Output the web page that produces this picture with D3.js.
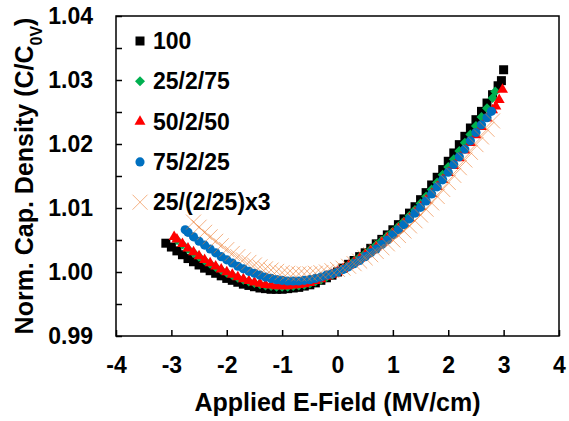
<!DOCTYPE html>
<html><head><meta charset="utf-8">
<script src="https://cdn.jsdelivr.net/npm/d3@7"></script>
<style>
body{margin:0;background:#fff}
text{font-family:"Liberation Sans",Arial,sans-serif;font-weight:bold;fill:#000}
</style>
</head><body>
<svg id="c" width="569" height="421"></svg>
<script>
const xTicks=[-4,-3,-2,-1,0,1,2,3,4];
const yLabelTicks=[0.99,1.00,1.01,1.02,1.03,1.04];
const yMinorTicks=[0.995,1.005,1.015,1.025,1.035];
const seriesNames=["100","25/2/75","50/2/50","75/2/25","25/(2/25)x3"];

const s100=[[-3.1,1.0045],[-3.0,1.0039],[-2.9,1.0033],[-2.8,1.0027],[-2.7,1.0021],[-2.6,1.0016],[-2.5,1.0011],[-2.4,1.0006],[-2.3,1.0002],[-2.2,0.9998],[-2.1,0.9994],[-2.0,0.9990],[-1.9,0.9987],[-1.8,0.9984],[-1.7,0.9981],[-1.6,0.9979],[-1.5,0.9977],[-1.4,0.9975],[-1.3,0.9974],[-1.2,0.9973],[-1.1,0.9973],[-1.0,0.9973],[-0.9,0.9974],[-0.8,0.9975],[-0.7,0.9976],[-0.6,0.9978],[-0.5,0.9980],[-0.4,0.9983],[-0.3,0.9987],[-0.2,0.9991],[-0.1,0.9995],[0.0,1.0000],[0.1,1.0006],[0.2,1.0012],[0.3,1.0018],[0.4,1.0024],[0.5,1.0030],[0.6,1.0037],[0.7,1.0044],[0.8,1.0051],[0.9,1.0058],[1.0,1.0066],[1.1,1.0074],[1.2,1.0083],[1.3,1.0092],[1.4,1.0102],[1.5,1.0113],[1.6,1.0124],[1.7,1.0136],[1.8,1.0148],[1.9,1.0160],[2.0,1.0173],[2.1,1.0186],[2.2,1.0199],[2.3,1.0212],[2.4,1.0225],[2.5,1.0238],[2.6,1.0251],[2.7,1.0264],[2.8,1.0277],[2.9,1.0291],[2.96,1.0299],[3.0,1.0316]];

const s25_2_75=[[-2.9,1.0050],[-2.8,1.0043],[-2.7,1.0036],[-2.6,1.0030],[-2.5,1.0024],[-2.4,1.0018],[-2.3,1.0013],[-2.2,1.0008],[-2.1,1.0003],[-2.0,0.9999],[-1.9,0.9995],[-1.8,0.9991],[-1.7,0.9988],[-1.6,0.9985],[-1.5,0.9983],[-1.4,0.9981],[-1.3,0.9979],[-1.2,0.9978],[-1.1,0.9977],[-1.0,0.9977],[-0.9,0.9977],[-0.8,0.9978],[-0.7,0.9979],[-0.6,0.9980],[-0.5,0.9982],[-0.4,0.9985],[-0.3,0.9988],[-0.2,0.9992],[-0.1,0.9996],[0.0,1.0000],[0.1,1.0005],[0.2,1.0011],[0.3,1.0017],[0.4,1.0023],[0.5,1.0029],[0.6,1.0035],[0.7,1.0042],[0.8,1.0049],[0.9,1.0056],[1.0,1.0063],[1.1,1.0071],[1.2,1.0079],[1.3,1.0088],[1.4,1.0097],[1.5,1.0107],[1.6,1.0118],[1.7,1.0129],[1.8,1.0140],[1.9,1.0152],[2.0,1.0164],[2.1,1.0176],[2.2,1.0189],[2.3,1.0202],[2.4,1.0215],[2.5,1.0228],[2.6,1.0242],[2.7,1.0256],[2.8,1.0272],[2.85,1.0282]];

const s50_2_50=[[-2.95,1.0055],[-2.9,1.0051],[-2.8,1.0044],[-2.7,1.0037],[-2.6,1.0031],[-2.5,1.0025],[-2.4,1.0019],[-2.3,1.0014],[-2.2,1.0009],[-2.1,1.0004],[-2.0,1.0000],[-1.9,0.9996],[-1.8,0.9992],[-1.7,0.9989],[-1.6,0.9986],[-1.5,0.9984],[-1.4,0.9982],[-1.3,0.9980],[-1.2,0.9979],[-1.1,0.9978],[-1.0,0.9978],[-0.9,0.9978],[-0.8,0.9979],[-0.7,0.9980],[-0.6,0.9981],[-0.5,0.9983],[-0.4,0.9986],[-0.3,0.9989],[-0.2,0.9993],[-0.1,0.9996],[0.0,1.0000],[0.1,1.0005],[0.2,1.0010],[0.3,1.0015],[0.4,1.0021],[0.5,1.0027],[0.6,1.0033],[0.7,1.0039],[0.8,1.0046],[0.9,1.0053],[1.0,1.0060],[1.1,1.0068],[1.2,1.0076],[1.3,1.0084],[1.4,1.0093],[1.5,1.0102],[1.6,1.0112],[1.7,1.0122],[1.8,1.0133],[1.9,1.0144],[2.0,1.0155],[2.1,1.0166],[2.2,1.0178],[2.3,1.0190],[2.4,1.0202],[2.5,1.0214],[2.6,1.0227],[2.7,1.0240],[2.8,1.0253],[2.86,1.0259],[2.92,1.0269],[2.98,1.0285]];

const s75_2_25=[[-2.75,1.0066],[-2.7,1.0062],[-2.6,1.0055],[-2.5,1.0048],[-2.4,1.0042],[-2.3,1.0036],[-2.2,1.0030],[-2.1,1.0024],[-2.0,1.0019],[-1.9,1.0014],[-1.8,1.0009],[-1.7,1.0005],[-1.6,1.0001],[-1.5,0.9998],[-1.4,0.9995],[-1.3,0.9992],[-1.2,0.9990],[-1.1,0.9988],[-1.0,0.9987],[-0.9,0.9986],[-0.8,0.9986],[-0.7,0.9986],[-0.6,0.9987],[-0.5,0.9988],[-0.4,0.9990],[-0.3,0.9992],[-0.2,0.9995],[-0.1,0.9997],[0.0,1.0000],[0.1,1.0004],[0.2,1.0008],[0.3,1.0013],[0.4,1.0018],[0.5,1.0024],[0.6,1.0030],[0.7,1.0036],[0.8,1.0043],[0.9,1.0050],[1.0,1.0058],[1.1,1.0066],[1.2,1.0074],[1.3,1.0083],[1.4,1.0092],[1.5,1.0101],[1.6,1.0111],[1.7,1.0122],[1.8,1.0133],[1.9,1.0144],[2.0,1.0156],[2.1,1.0168],[2.2,1.0180],[2.3,1.0192],[2.4,1.0205],[2.5,1.0218],[2.6,1.0230],[2.7,1.0241],[2.78,1.0251]];

const s25_x3=[[-2.6,1.0078],[-2.5,1.0070],[-2.4,1.0062],[-2.3,1.0055],[-2.2,1.0048],[-2.1,1.0041],[-2.0,1.0035],[-1.9,1.0029],[-1.8,1.0024],[-1.7,1.0019],[-1.6,1.0015],[-1.5,1.0011],[-1.4,1.0008],[-1.3,1.0005],[-1.2,1.0003],[-1.1,1.0001],[-1.0,0.9999],[-0.9,0.9998],[-0.8,0.9997],[-0.7,0.9997],[-0.6,0.9997],[-0.5,0.9997],[-0.4,0.9998],[-0.3,0.9999],[-0.2,1.0000],[-0.1,1.0002],[0.0,1.0004],[0.1,1.0006],[0.2,1.0009],[0.3,1.0013],[0.4,1.0017],[0.5,1.0022],[0.6,1.0027],[0.7,1.0032],[0.8,1.0038],[0.9,1.0044],[1.0,1.0050],[1.1,1.0057],[1.2,1.0064],[1.3,1.0072],[1.4,1.0080],[1.5,1.0089],[1.6,1.0098],[1.7,1.0108],[1.8,1.0118],[1.9,1.0129],[2.0,1.0140],[2.1,1.0151],[2.2,1.0163],[2.3,1.0175],[2.4,1.0187],[2.5,1.0199],[2.6,1.0211],[2.7,1.0223],[2.8,1.0236]];

const seriesData=[s100,s25_2_75,s50_2_50,s75_2_25,s25_x3];

const svg=d3.select("#c");
const L=116,R=559,T=16,B=336;
const x=d3.scaleLinear().domain([-4,4]).range([L,R]);
const y=d3.scaleLinear().domain([0.99,1.04]).range([B,T]);

const sq=d3.symbol().type(d3.symbolSquare).size(81)();
const dia=d3.symbol().type(d3.symbolSquare).size(50)();
const tri=d3.symbol().type(d3.symbolTriangle).size(52)();
const cir=d3.symbol().type(d3.symbolCircle).size(66)();
const crossPath="M-7.5,-7.5L7.5,7.5M-7.5,7.5L7.5,-7.5";
const styles=[
  {d:sq,fill:"#000000",stroke:"none",rot:0},
  {d:dia,fill:"#00B050",stroke:"none",rot:45},
  {d:tri,fill:"#FF0000",stroke:"none",rot:0},
  {d:cir,fill:"#0070C0",stroke:"none",rot:0},
  {d:crossPath,fill:"none",stroke:"#ED7D31",rot:0}
];
function mark(sel,st){
  sel.attr("d",st.d).attr("fill",st.fill).attr("stroke",st.stroke)
    .attr("stroke-width",st.stroke==="none"?null:1).attr("stroke-opacity",st.stroke==="none"?null:0.6);
}

const gx=svg.append("g").attr("transform",`translate(0,${B})`)
  .call(d3.axisBottom(x).tickValues(xTicks).tickFormat(d=>d).tickSizeInner(-6).tickSizeOuter(0).tickPadding(21));
const gy=svg.append("g").attr("transform",`translate(${L},0)`)
  .call(d3.axisLeft(y).tickValues(yLabelTicks).tickFormat(d3.format(".2f")).tickSizeInner(-6).tickSizeOuter(0).tickPadding(23));
const gy2=svg.append("g").attr("transform",`translate(${L},0)`)
  .call(d3.axisLeft(y).tickValues(yMinorTicks).tickFormat("").tickSizeInner(-6).tickSizeOuter(0));
[gx,gy,gy2].forEach(g=>{
  g.select(".domain").remove();
  g.selectAll("line").attr("stroke","#000").attr("stroke-width",1.5);
  g.selectAll("text").style("font-size","23px").attr("font-family","Liberation Sans, Arial, sans-serif").attr("font-weight","bold");
});

seriesData.forEach((data,i)=>{
  const st=styles[i];
  svg.append("g").selectAll("path").data(data).join("path")
    .attr("transform",d=>`translate(${x(d[0])},${y(d[1])}) rotate(${st.rot})`)
    .call(mark,st);
});

svg.append("rect").attr("x",L).attr("y",T).attr("width",R-L).attr("height",B-T)
  .attr("fill","none").attr("stroke","#000").attr("stroke-width",1.5);

const lg=svg.append("g");
seriesNames.forEach((name,i)=>{
  const cy=41+i*40.3;
  const st=styles[i];
  lg.append("path").attr("transform",`translate(140,${cy}) rotate(${st.rot})`).call(mark,st);
  lg.append("text").attr("x",153).attr("y",cy+8).style("font-size","23px").text(name);
});

svg.append("text").attr("x",(L+R)/2).attr("y",411).attr("text-anchor","middle")
  .style("font-size","25px").text("Applied E-Field (MV/cm)");
const yt=svg.append("text").attr("transform","translate(33,176) rotate(-90)").attr("text-anchor","middle").style("font-size","25px");
yt.append("tspan").text("Norm. Cap. Density (C/C");
yt.append("tspan").attr("baseline-shift","sub").style("font-size","16px").text("0V");
yt.append("tspan").text(")");
</script>
</body></html>
